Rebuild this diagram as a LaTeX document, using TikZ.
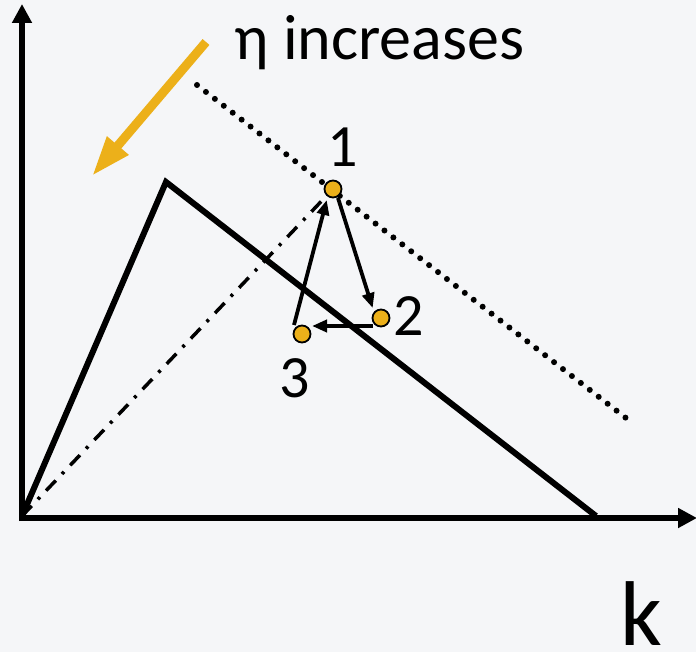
\documentclass[tikz,border=0pt]{standalone}
\usepackage{fontspec}
\setmainfont{Carlito}
\usetikzlibrary{arrows.meta}
\definecolor{bg}{HTML}{F5F6F8}
\definecolor{gold}{HTML}{ECB01A}
\tikzset{
  axis/.style={line width=6pt, -{Triangle[length=19pt,width=19pt]}},
  curve/.style={line width=6pt, line join=miter},
  cyc/.style={line width=3.8pt, -{Triangle[length=15pt,width=12pt]}, shorten >=1pt},
  pt/.style={circle, draw=black, fill=gold, line width=1.8pt, inner sep=0pt, minimum size=17pt},
  lbl/.style={font=\fontsize{60}{60}\selectfont, inner sep=0pt}
}
\begin{document}
\begin{tikzpicture}[x=1pt,y=-1pt]
\useasboundingbox (0,0) rectangle (696,652);
\fill[bg] (0,0) rectangle (696,652);
\coordinate (O) at (22,516);
\coordinate (Ytop) at (22,4);
\coordinate (Xend) at (697,518);
\coordinate (P) at (166,182);
\coordinate (Q) at (596,516);
\coordinate (D1) at (197,85);
\coordinate (D2) at (626,418);
\coordinate (G1) at (206,42);
\coordinate (G2) at (92,176);
% axes
\draw[axis] (22,521) -- (Ytop);
\draw[axis] (19,518) -- (Xend);
% curve
\draw[curve] (O) -- (P) -- (Q);
% dotted line
\draw[line width=6pt, line cap=round, dash pattern=on 0pt off 11.3pt] (D1) -- (D2);
% points
\node[pt] (n1) at (333,189) {};
\node[pt] (n2) at (381,318) {};
\node[pt] (n3) at (302,334) {};
% dash-dot line
\draw[line width=3.5pt, dash pattern=on 14pt off 9pt on 3pt off 9pt] (O) -- (n1);
% cycle arrows
\draw[cyc] (338,198) -- (373,309);
\draw[cyc] (373,326) -- (311,326);
\draw[cyc] (294,325) -- (327,199);
% gold arrow
\draw[line width=9pt, gold, -{Triangle[length=40pt,width=26pt]}] (G1) -- (G2);
% labels
\node[lbl, font=\fontsize{64}{64}\selectfont, anchor=base west] (t) at (234,60) {η increases};
\node[lbl, anchor=base] (l1) at (343,167) {1};
\node[lbl, anchor=base] (l2) at (409,335) {2};
\node[lbl, anchor=base] (l3) at (295,397) {3};
\node[lbl, font=\fontsize{92}{92}\selectfont, anchor=base] (k) at (641,645) {k};
\end{tikzpicture}
\end{document}
